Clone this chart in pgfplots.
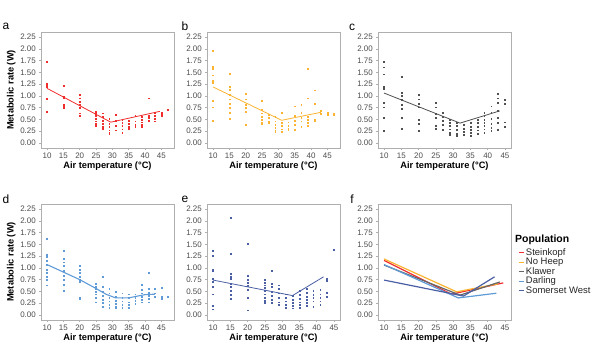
\documentclass[border=0pt]{standalone}
\usepackage{fontspec}
\setmainfont{Liberation Sans}
\usepackage{pgfplots}
\pgfplotsset{compat=1.18}

\definecolor{cSt}{RGB}{240,45,45}
\definecolor{cNH}{RGB}{250,180,50}
\definecolor{cKl}{RGB}{80,80,80}
\definecolor{cDa}{RGB}{95,155,215}
\definecolor{cSW}{RGB}{75,95,165}
\definecolor{tickgray}{RGB}{77,77,77}
\definecolor{bordergray}{RGB}{175,175,175}

\pgfplotsset{
  panel/.style={
    scale only axis, width=133bp, height=116bp,
    xmin=8.15, xmax=48.85, ymin=-0.11, ymax=2.36,
    xtick={10,15,20,25,30,35,40,45},
    ytick={0,0.25,0.5,0.75,1,1.25,1.5,1.75,2,2.25},
    yticklabels={0.00,0.25,0.50,0.75,1.00,1.25,1.50,1.75,2.00,2.25},
    axis line style={bordergray, line width=0.8bp},
    tick style={bordergray, line width=0.5bp},
    tick align=outside, major tick length=2.2bp,
    xtick pos=left, ytick pos=left,
    ticklabel style={font=\fontsize{8}{8}\selectfont, text=tickgray},
    xticklabel style={yshift=1bp},
    yticklabel style={xshift=0.5bp},
    /pgf/number format/assume math mode=true,
    xlabel={Air temperature (°C)},
    xlabel style={font=\bfseries\fontsize{9.3}{10}\selectfont, yshift=3bp},
    clip=false,
  },
  pts/.style={only marks, mark=square*, mark size=0.42bp, mark options={draw=none}},
  fit/.style={line width=0.8bp, mark=none},
}

\begin{document}
\begin{tikzpicture}
\useasboundingbox (0,0) rectangle (604bp,-352bp);

% ---------- a ----------
\begin{axis}[panel, at={(41bp,-32bp)}, anchor=north west,
  ylabel={Metabolic rate (W)},
  ylabel style={font=\bfseries\fontsize{9.3}{10}\selectfont, yshift=-2bp}]
\addplot[pts, color=cSt] coordinates {
(10,1.72)(10,1.27)(10,1.24)(10,1.20)(10,0.94)(10,0.67)
(15,1.21)(15,0.99)(15,0.95)(15,0.81)(15,0.78)(15,0.76)(15,0.74)
(20,1.02)(20,0.95)(20,0.88)(20,0.81)(20,0.74)(20,0.63)(20,0.58)
(25,0.67)(25,0.62)(25,0.57)(25,0.51)(25,0.46)(25,0.41)(25,0.37)
(27,0.63)(27,0.55)(27,0.48)(27,0.41)(27,0.34)(27,0.30)
(29,0.51)(29,0.41)(29,0.34)(29,0.27)(29,0.22)(29,0.20)
(31,0.60)(31,0.48)(31,0.36)(31,0.27)
(33,0.50)(33,0.43)(33,0.36)(33,0.29)(33,0.22)
(35,0.48)(35,0.41)(35,0.34)(35,0.30)
(37,0.57)(37,0.46)(37,0.39)(37,0.34)
(39,0.55)(39,0.50)(39,0.44)(39,0.39)(39,0.34)
(41,0.95)(41,0.58)(41,0.53)(41,0.48)
(43,0.65)(43,0.57)(43,0.51)(43,0.46)
(45,0.65)(45,0.61)(45,0.58)
(47,0.71)};
\addplot[fit, cSt] coordinates {(10,1.16)(29.5,0.44)(44.5,0.67)};
\end{axis}

% ---------- b ----------
\begin{axis}[panel, at={(207bp,-32bp)}, anchor=north west]
\addplot[pts, color=cNH] coordinates {
(10,1.96)(10,1.62)(10,1.58)(10,1.44)(10,1.33)(10,1.28)(10,0.90)(10,0.76)(10,0.48)
(15,1.47)(15,1.19)(15,1.14)(15,1.02)(15,0.93)(15,0.83)(15,0.74)(15,0.65)(15,0.51)
(20,1.04)(20,0.93)(20,0.81)(20,0.74)(20,0.67)(20,0.39)
(25,0.90)(25,0.70)(25,0.63)(25,0.55)(25,0.49)(25,0.44)(25,0.41)
(27,0.60)(27,0.53)(27,0.46)(27,0.42)
(29,0.55)(29,0.46)(29,0.39)(29,0.32)(29,0.25)(29,0.23)
(31,0.65)(31,0.43)(31,0.36)(31,0.29)(31,0.23)
(33,0.44)(33,0.37)(33,0.30)(33,0.27)
(35,0.78)(35,0.57)(35,0.48)(35,0.39)(35,0.28)
(37,0.81)(37,0.65)(37,0.53)(37,0.46)(37,0.35)
(39,1.58)(39,0.95)(39,0.56)(39,0.49)(39,0.43)(39,0.37)
(41,1.12)(41,0.84)(41,0.50)(41,0.46)
(43,0.69)(43,0.62)
(45,0.64)(45,0.60)
(47,0.63)(47,0.60)};
\addplot[fit, cNH] coordinates {(10,1.19)(31,0.48)(43,0.65)};
\end{axis}

% ---------- c ----------
\begin{axis}[panel, at={(378bp,-32bp)}, anchor=north west, xmin=8.25, xmax=46.75]
\addplot[pts, color=cKl] coordinates {
(10,1.72)(10,1.61)(10,1.46)(10,1.20)(10,1.16)(10,0.85)(10,0.76)(10,0.53)(10,0.25)
(15,1.40)(15,1.07)(15,1.00)(15,0.91)(15,0.81)(15,0.72)(15,0.53)(15,0.30)
(20,1.02)(20,0.93)(20,0.84)(20,0.76)(20,0.50)(20,0.41)(20,0.25)
(25,0.86)(25,0.76)(25,0.62)(25,0.53)(25,0.37)(25,0.30)
(27,0.65)(27,0.55)(27,0.48)(27,0.39)(27,0.28)
(29,0.50)(29,0.43)(29,0.36)(29,0.29)(29,0.22)(29,0.18)
(31,0.43)(31,0.36)(31,0.28)(31,0.20)(31,0.16)
(33,0.39)(33,0.30)(33,0.23)(33,0.18)
(35,0.42)(35,0.35)(35,0.28)(35,0.22)(35,0.16)
(37,0.50)(37,0.42)(37,0.34)(37,0.27)(37,0.20)
(39,0.65)(39,0.57)(39,0.50)(39,0.43)(39,0.36)(39,0.29)(39,0.22)
(41,0.78)(41,0.65)(41,0.51)(41,0.41)(41,0.32)(41,0.25)
(43,1.04)(43,0.95)(43,0.86)(43,0.69)(43,0.53)(43,0.43)(43,0.28)
(45,0.91)(45,0.84)(45,0.44)(45,0.34)};
\addplot[fit, cKl] coordinates {(10,1.06)(32,0.42)(43.5,0.68)};
\end{axis}

% ---------- d ----------
\begin{axis}[panel, at={(41bp,-204bp)}, anchor=north west,
  ylabel={Metabolic rate (W)},
  ylabel style={font=\bfseries\fontsize{9.3}{10}\selectfont, yshift=-2bp}]
\addplot[pts, color=cDa] coordinates {
(10,1.62)(10,1.28)(10,1.23)(10,1.16)(10,1.07)(10,0.97)(10,0.90)(10,0.82)(10,0.75)(10,0.63)
(15,1.37)(15,1.19)(15,1.12)(15,1.04)(15,0.94)(15,0.83)(15,0.75)(15,0.64)(15,0.51)
(20,1.04)(20,0.97)(20,0.90)(20,0.82)(20,0.75)(20,0.70)(20,0.37)(20,0.34)
(25,0.66)(25,0.60)(25,0.55)(25,0.49)(25,0.44)(25,0.36)(25,0.27)
(27,0.82)(27,0.60)(27,0.49)(27,0.41)(27,0.32)(27,0.25)(27,0.18)
(29,0.56)(29,0.46)(29,0.37)(29,0.29)(29,0.21)(29,0.16)
(31,0.49)(31,0.39)(31,0.30)(31,0.23)(31,0.18)(31,0.14)
(33,0.46)(33,0.37)(33,0.29)(33,0.22)(33,0.16)
(35,0.44)(35,0.36)(35,0.27)(35,0.22)(35,0.16)
(37,0.44)(37,0.37)(37,0.30)(37,0.23)
(39,0.64)(39,0.53)(39,0.46)(39,0.39)(39,0.32)(39,0.27)
(41,0.89)(41,0.56)(41,0.48)(41,0.41)(41,0.34)(41,0.27)
(43,0.55)(43,0.46)(43,0.39)
(45,0.58)(45,0.39)(45,0.34)
(47,0.38)};
\addplot[fit, cDa, line width=1.1bp] coordinates {(10,1.07)(20,0.75)(25,0.56)(28,0.44)(31,0.36)(35,0.36)(37,0.39)(40,0.43)(43,0.44)};
\end{axis}

% ---------- e ----------
\begin{axis}[panel, at={(207bp,-204bp)}, anchor=north west, xmin=8.25, xmax=46.75]
\addplot[pts, color=cSW] coordinates {
(10,1.37)(10,1.26)(10,0.97)(10,0.94)(10,0.77)(10,0.70)(10,0.60)(10,0.44)(10,0.19)(10,0.12)
(15,2.07)(15,1.30)(15,0.87)(15,0.82)(15,0.77)(15,0.67)(15,0.60)(15,0.51)(15,0.43)(15,0.34)
(20,1.52)(20,0.83)(20,0.75)(20,0.68)(20,0.62)(20,0.53)(20,0.36)(20,0.10)
(25,0.75)(25,0.68)(25,0.63)(25,0.57)(25,0.51)(25,0.44)(25,0.37)(25,0.30)(25,0.25)
(27,0.94)(27,0.66)(27,0.60)(27,0.50)(27,0.41)(27,0.33)(27,0.25)
(29,0.63)(29,0.55)(29,0.46)(29,0.37)(29,0.27)(29,0.22)
(31,0.44)(31,0.36)(31,0.29)(31,0.21)(31,0.15)
(33,0.41)(33,0.32)(33,0.25)(33,0.20)(33,0.14)
(35,0.51)(35,0.43)(35,0.34)(35,0.27)(35,0.22)(35,0.15)
(37,0.56)(37,0.48)(37,0.39)(37,0.33)(37,0.25)(37,0.19)
(39,0.51)(39,0.43)(39,0.36)(39,0.29)(39,0.17)
(41,0.53)(41,0.44)(41,0.37)(41,0.29)(41,0.21)
(43,0.77)(43,0.73)(43,0.48)(43,0.39)
(45,1.38)};
\addplot[fit, cSW] coordinates {(10,0.74)(33,0.41)(42,0.81)};
\end{axis}

% ---------- f ----------
\begin{axis}[panel, at={(378bp,-204bp)}, anchor=north west, xmin=8.25, xmax=46.75,
  legend style={at={(1.03,0.64)}, anchor=north west, draw=none, fill=none,
    font=\fontsize{9.5}{9}\selectfont, text=black!85,
    nodes={inner sep=0.3bp, text height=6.8bp, text depth=1.8bp, anchor=west},
    row sep=0.3bp},
  legend cell align=left,
  legend image code/.code={\draw[#1, line width=1bp] (0bp,0bp) -- (5bp,0bp);}]
\addplot[fit, cSt, line width=1.2bp] coordinates {(10,1.16)(29.5,0.44)(44.5,0.68)};
\addlegendentry{\hspace{1.5bp}Steinkopf}
\addplot[fit, cNH, line width=1.2bp] coordinates {(10,1.19)(31,0.49)(43,0.66)};
\addlegendentry{\hspace{1.5bp}No Heep}
\addplot[fit, black!60, line width=1.2bp] coordinates {(10,1.06)(32,0.42)(43.5,0.70)};
\addlegendentry{\hspace{1.5bp}Klawer}
\addplot[fit, cDa, line width=1.2bp] coordinates {(10,1.07)(31.5,0.36)(42.5,0.46)};
\addlegendentry{\hspace{1.5bp}Darling}
\addplot[fit, cSW, line width=1.2bp] coordinates {(10,0.74)(33,0.40)(42,0.81)};
\addlegendentry{\hspace{1.5bp}Somerset West}
\node[anchor=west, font=\bfseries\fontsize{10.5}{11}\selectfont, inner sep=0pt]
  at (rel axis cs:1.03,0.69) {Population};
\end{axis}

% panel letters
\node[font=\fontsize{12}{12}\selectfont] at (6bp,-26bp) {a};
\node[font=\fontsize{12}{12}\selectfont] at (185bp,-26bp) {b};
\node[font=\fontsize{12}{12}\selectfont] at (352bp,-27bp) {c};
\node[font=\fontsize{12}{12}\selectfont] at (6bp,-199bp) {d};
\node[font=\fontsize{12}{12}\selectfont] at (185bp,-199bp) {e};
\node[font=\fontsize{12}{12}\selectfont] at (352bp,-199bp) {f};
\end{tikzpicture}
\end{document}
